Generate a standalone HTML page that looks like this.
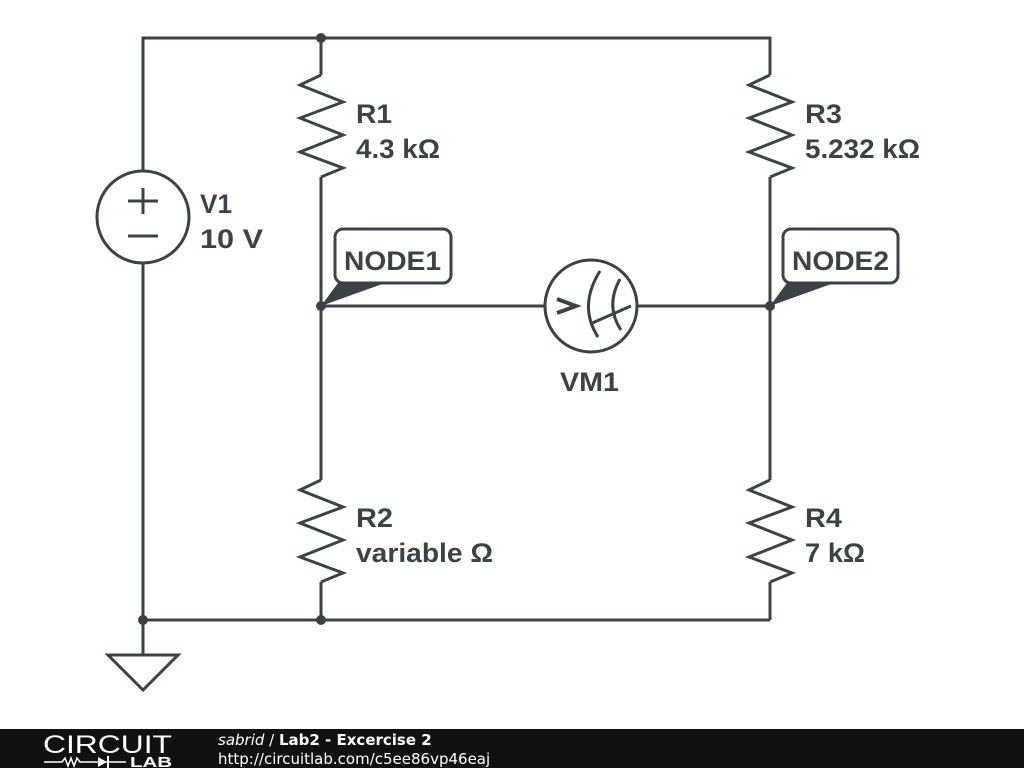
<!DOCTYPE html>
<html><head><meta charset="utf-8"><style>
html,body{margin:0;padding:0;background:#fff;width:1024px;height:768px;overflow:hidden}
svg{display:block}
text{font-family:"Liberation Sans",sans-serif;font-weight:bold;fill:#3b4347}
</style></head><body>
<svg width="1024" height="768" viewBox="0 0 1024 768" xmlns="http://www.w3.org/2000/svg">
<g stroke="#3b4347" stroke-width="3" fill="none" stroke-linejoin="miter">
<polyline points="143,171 143,38 770,38 770,75"/>
<line x1="321" y1="38" x2="321" y2="75"/>
<line x1="143" y1="263" x2="143" y2="655"/>
<line x1="143" y1="620" x2="770" y2="620"/>
<line x1="321" y1="177" x2="321" y2="480"/>
<line x1="321" y1="582" x2="321" y2="620"/>
<line x1="770" y1="177" x2="770" y2="480"/>
<line x1="770" y1="582" x2="770" y2="620"/>
<line x1="321" y1="306" x2="545" y2="306"/>
<line x1="637" y1="306" x2="770" y2="306"/>
<polyline points="321,75 300,85 343,102 300,118 343,135 300,152 343,168 321,177"/>
<polyline points="770,75 749,85 792,102 749,118 792,135 749,152 792,168 770,177"/>
<polyline points="321,480 300,490 343,507 300,523 343,540 300,557 343,573 321,582"/>
<polyline points="770,480 749,490 792,507 749,523 792,540 749,557 792,573 770,582"/>
<circle cx="143" cy="217" r="46"/>
<line x1="128" y1="201" x2="158" y2="201"/>
<line x1="143" y1="188" x2="143" y2="214"/>
<line x1="128" y1="236" x2="158" y2="236"/>
<polygon points="108,655 178,655 143,690"/>
<circle cx="591" cy="306" r="46"/>
<path d="M600,271 Q578,306 598,337"/>
<path d="M620,279 Q605,306 621,330"/>
<line x1="590" y1="324" x2="631" y2="306"/>
<rect x="335" y="229" width="116" height="54" rx="8"/>
<rect x="783" y="229" width="115" height="54" rx="8"/>
</g>
<g fill="#3b4347">
<polygon points="321,306 338,283 385,283"/>
<polygon points="770,306 787,283 834,283"/>
<circle cx="321" cy="38" r="5"/>
<circle cx="321" cy="306" r="5"/>
<circle cx="770" cy="306" r="5"/>
<circle cx="143" cy="620" r="5"/>
<circle cx="321" cy="620" r="5"/>
</g>
<path d="M557,299 L576,306 L557,313" stroke="#3b4347" stroke-width="4" fill="none"/>
<g font-size="27">
<text x="356" y="123" textLength="36" lengthAdjust="spacingAndGlyphs">R1</text>
<text x="356" y="158" textLength="84" lengthAdjust="spacingAndGlyphs">4.3 kΩ</text>
<text x="805" y="123" textLength="37" lengthAdjust="spacingAndGlyphs">R3</text>
<text x="805" y="158" textLength="115" lengthAdjust="spacingAndGlyphs">5.232 kΩ</text>
<text x="200" y="213" textLength="32" lengthAdjust="spacingAndGlyphs">V1</text>
<text x="200" y="248" textLength="63" lengthAdjust="spacingAndGlyphs">10 V</text>
<text x="344" y="270" textLength="97" lengthAdjust="spacingAndGlyphs">NODE1</text>
<text x="792" y="270" textLength="97" lengthAdjust="spacingAndGlyphs">NODE2</text>
<text x="560" y="391" textLength="59" lengthAdjust="spacingAndGlyphs">VM1</text>
<text x="356" y="527" textLength="37" lengthAdjust="spacingAndGlyphs">R2</text>
<text x="356" y="562" textLength="137" lengthAdjust="spacingAndGlyphs">variable Ω</text>
<text x="805" y="527" textLength="37" lengthAdjust="spacingAndGlyphs">R4</text>
<text x="805" y="562" textLength="60" lengthAdjust="spacingAndGlyphs">7 kΩ</text>
</g>
<rect x="0" y="729" width="1024" height="39" fill="#111"/>
<text x="43" y="753" font-size="25" textLength="129" lengthAdjust="spacingAndGlyphs" style="font-weight:normal;fill:#fff">CIRCUIT</text>
<text x="130" y="767" font-size="15" textLength="42" lengthAdjust="spacingAndGlyphs" style="fill:#fff">LAB</text>
<polyline points="44,762 62,762 65,758 68,766 71,758 74,766 77,758 80,762 126,762" stroke="#fff" stroke-width="1.5" fill="none"/>
<polygon points="98,757 98,767 107,762" fill="#fff"/>
<line x1="108" y1="756" x2="108" y2="768" stroke="#fff" stroke-width="2"/>
<text x="218" y="745" font-size="15" style="fill:#fff;font-weight:normal;font-family:'DejaVu Sans',sans-serif"><tspan font-style="italic">sabrid</tspan> / <tspan font-weight="bold">Lab2 - Excercise 2</tspan></text>
<text x="218" y="764" font-size="15" style="fill:#fff;font-weight:normal;font-family:'DejaVu Sans',sans-serif">http://circuitlab.com/c5ee86vp46eaj</text>
</svg>
</body></html>
